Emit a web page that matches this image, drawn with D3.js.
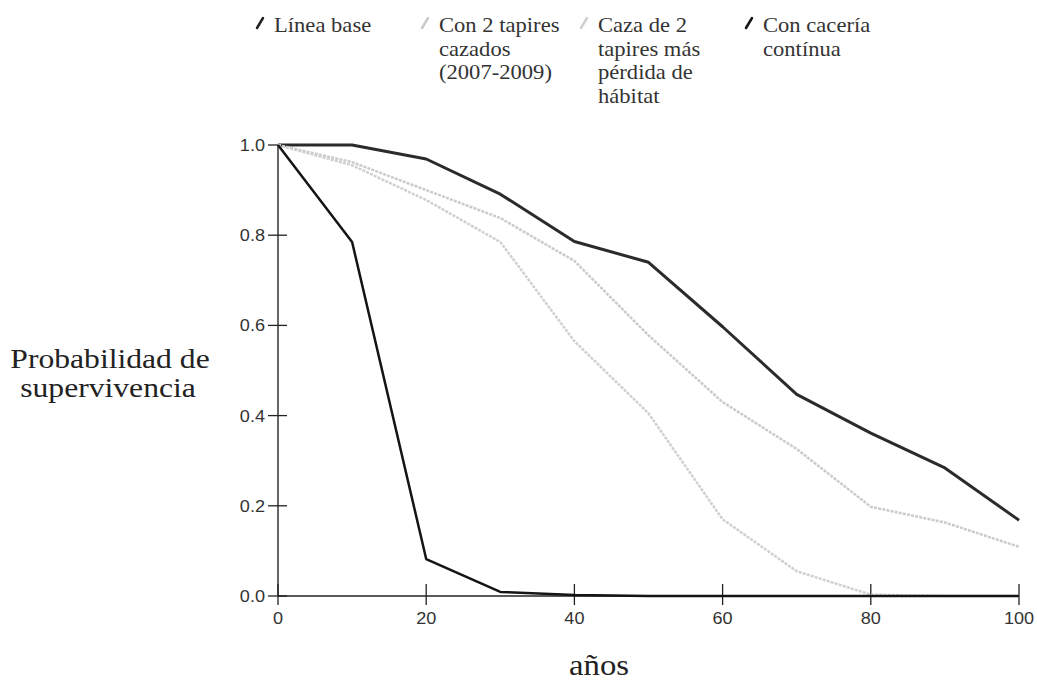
<!DOCTYPE html>
<html>
<head>
<meta charset="utf-8">
<script src="https://cdn.jsdelivr.net/npm/d3@7"></script>
<style>
  body { margin: 0; background: #fff; }
  svg { display: block; }
  .serif { font-family: "Liberation Serif", Times, serif; }
  .sans { font-family: "Liberation Sans", Arial, sans-serif; }
</style>
</head>
<body>
<div id="chart"></div>
<script>
// Data (probability of survival vs years)
const years = [0, 10, 20, 30, 40, 50, 60, 70, 80, 90, 100];
const lineaBase = [1.0, 1.0, 0.969, 0.891, 0.786, 0.74, 0.597, 0.447, 0.361, 0.284, 0.168];
const dosTapires = [1.0, 0.962, 0.90, 0.838, 0.743, 0.578, 0.43, 0.326, 0.198, 0.163, 0.109];
const cazaHabitat = [1.0, 0.955, 0.878, 0.785, 0.565, 0.405, 0.17, 0.055, 0.003, 0, 0];
const caceriaContinua = [1.0, 0.785, 0.082, 0.009, 0.002, 0, 0, 0, 0, 0, 0];

const legendLabels = [
  ["Línea base"],
  ["Con 2 tapires", "cazados", "(2007-2009)"],
  ["Caza de 2", "tapires más", "pérdida de", "hábitat"],
  ["Con cacería", "contínua"]
];
const xTicks = [0, 20, 40, 60, 80, 100];
const yTicks = [0, 0.2, 0.4, 0.6, 0.8, 1.0];

const width = 1037, height = 683;
const stretch = 1.13; // the scanned figure is a bit wider than tall

const svg = d3.select("#chart").append("svg")
  .attr("width", width)
  .attr("height", height);

svg.append("rect").attr("width", width).attr("height", height).attr("fill", "#fff");

const x = d3.scaleLinear().domain([0, 100]).range([278, 1019]);
const y = d3.scaleLinear().domain([0, 1]).range([596, 145]);

// helper for stretched text
function label(sel, tx, ty, str, size, cls, anchor, fill) {
  return sel.append("text")
    .attr("class", cls)
    .attr("transform", `translate(${tx},${ty}) scale(${stretch},1)`)
    .attr("text-anchor", anchor)
    .style("font-size", size + "px")
    .style("fill", fill)
    .text(str);
}

// Series styling
const series = [
  { values: lineaBase, color: "#2b2b2b", width: 3, dash: null },
  { values: dosTapires, color: "#cbcbcb", width: 2.5, dash: "3,1.2" },
  { values: cazaHabitat, color: "#d0d0d0", width: 2.5, dash: "3,1.2" },
  { values: caceriaContinua, color: "#141414", width: 2.5, dash: null }
];

// Axes
const axisG = svg.append("g").attr("class", "axes");
axisG.append("line")
  .attr("x1", x(0)).attr("x2", x(0))
  .attr("y1", y(1)).attr("y2", y(0))
  .attr("stroke", "#333").attr("stroke-width", 1.5);
axisG.append("line")
  .attr("x1", x(0)).attr("x2", x(100))
  .attr("y1", y(0)).attr("y2", y(0))
  .attr("stroke", "#222").attr("stroke-width", 1.5);

yTicks.forEach(t => {
  axisG.append("line")
    .attr("x1", x(0) - 10).attr("x2", x(0) + 9)
    .attr("y1", y(t)).attr("y2", y(t))
    .attr("stroke", "#222").attr("stroke-width", 1.3);
  label(axisG, x(0) - 13, y(t) + 6, d3.format(".1f")(t), 16, "sans", "end", "#333");
});

xTicks.forEach(t => {
  axisG.append("line")
    .attr("x1", x(t)).attr("x2", x(t))
    .attr("y1", y(0) - 12).attr("y2", y(0) + 9)
    .attr("stroke", "#222").attr("stroke-width", 1.3);
  label(axisG, x(t), y(0) + 28, String(t), 16, "sans", "middle", "#333");
});

// Lines
const line = d3.line()
  .x((d, i) => x(years[i]))
  .y(d => y(d));

series.forEach(s => {
  svg.append("path")
    .datum(s.values)
    .attr("d", line)
    .attr("fill", "none")
    .attr("stroke", s.color)
    .attr("stroke-width", s.width)
    .attr("stroke-linejoin", "round")
    .attr("stroke-dasharray", s.dash);
});

// Axis titles
label(svg, 110, 368, "Probabilidad de", 28, "serif", "middle", "#222");
label(svg, 108, 397, "supervivencia", 28, "serif", "middle", "#222");
label(svg, 599, 675, "años", 29, "serif", "middle", "#222");

// Legend
const legendX = [274, 439, 598, 763];
const legendColors = ["#222", "#cbcbcb", "#d0d0d0", "#141414"];
const legend = svg.append("g").attr("class", "legend");
legendLabels.forEach((lines, i) => {
  legend.append("line")
    .attr("x1", legendX[i] - 17).attr("y1", 28)
    .attr("x2", legendX[i] - 11).attr("y2", 18)
    .attr("stroke", legendColors[i])
    .attr("stroke-width", 2.5)
    .attr("stroke-linecap", "round");
  lines.forEach((str, j) => {
    label(legend, legendX[i], 32 + j * 23.7, str, 20, "serif", "start", "#333");
  });
});
</script>
</body>
</html>
